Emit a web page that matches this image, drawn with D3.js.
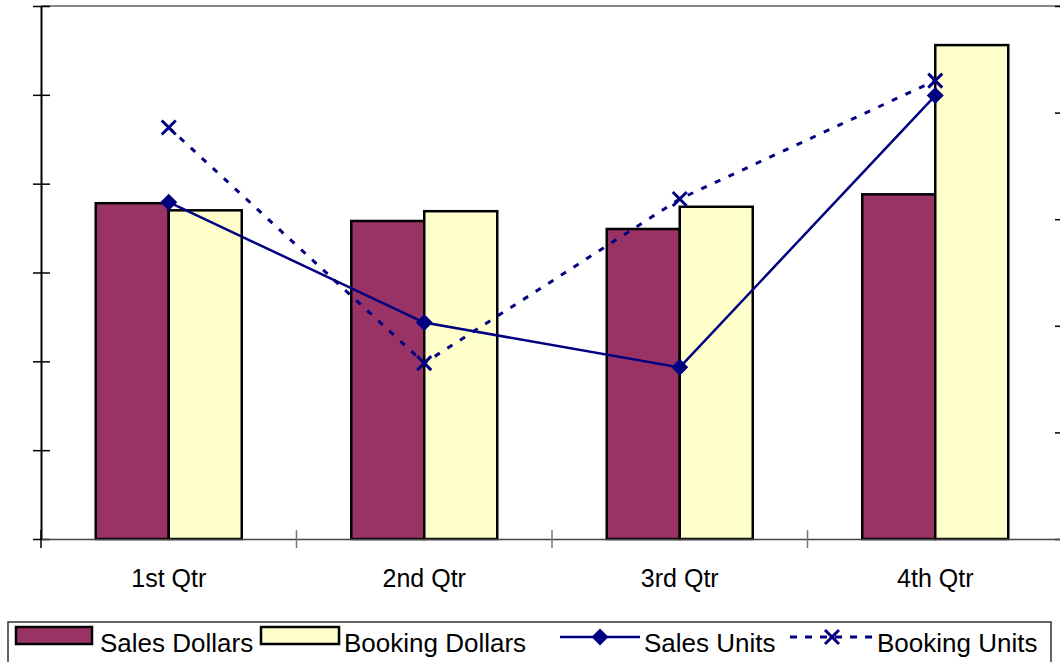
<!DOCTYPE html>
<html><head><meta charset="utf-8">
<script src="https://cdn.jsdelivr.net/npm/d3@7"></script>
<style>body{margin:0;background:#fff;}svg{display:block;font-family:"Liberation Sans",Arial,sans-serif;}</style>
</head><body><svg id="c" width="1060" height="662"></svg>
<script>
const categories = ["1st Qtr","2nd Qtr","3rd Qtr","4th Qtr"];
const salesDollars = [37.8, 35.8, 34.9, 38.8];
const bookingDollars = [37.0, 36.9, 37.4, 55.6];
const salesUnits = [316, 203, 161, 416];
const bookingUnits = [386, 165, 319, 430];
const leftTicks = [0,10,20,30,40,50,60];
const rightTicks = [0,100,200,300,400,500];

const svg = d3.select("#c");
const L = 41, R = 1063, T = 6, B = 539;
const x = d3.scaleBand().domain(categories).range([L, R]).paddingInner(0).paddingOuter(0);
const yL = d3.scaleLinear().domain([0, 60]).range([B, T]);
const yR = d3.scaleLinear().domain([0, 500]).range([B, T]);
const navy = "#000080";

// plot area border (top gray)
svg.append("line").attr("x1", L).attr("x2", R).attr("y1", T).attr("y2", T).attr("stroke", "#888").attr("stroke-width", 2);

// bars
const bw = 73;
const g = svg.append("g");
categories.forEach((c, i) => {
  const cx = x(c) + x.bandwidth() / 2;
  g.append("rect").attr("x", cx - bw).attr("y", yL(salesDollars[i])).attr("width", bw)
    .attr("height", B - yL(salesDollars[i])).attr("fill", "#993366").attr("stroke", "#000").attr("stroke-width", 2.5);
  g.append("rect").attr("x", cx).attr("y", yL(bookingDollars[i])).attr("width", bw)
    .attr("height", B - yL(bookingDollars[i])).attr("fill", "#FFFFCC").attr("stroke", "#000").attr("stroke-width", 2.5);
});

// axes
const axL = svg.append("g").attr("transform", `translate(${L},0)`)
  .call(d3.axisLeft(yL).tickValues(leftTicks).tickFormat("").tickSizeInner(8).tickSizeOuter(0));
axL.selectAll(".tick line").attr("x2", 0).attr("x1", -8).clone().attr("x1", 0).attr("x2", 9);
axL.select(".domain").attr("stroke", "#000").attr("stroke-width", 2);
axL.selectAll("line").attr("stroke", "#000").attr("stroke-width", 1.5);

const axR = svg.append("g").attr("transform", `translate(${R},0)`)
  .call(d3.axisRight(yR).tickValues(rightTicks).tickFormat("").tickSizeInner(8).tickSizeOuter(0));
axR.selectAll(".tick line").attr("x1", -8).attr("x2", 8).attr("stroke", "#000").attr("stroke-width", 1.5);

const axB = svg.append("g").attr("transform", `translate(0,${B})`)
  .call(d3.axisBottom(x).tickSize(0));
axB.select(".domain").attr("stroke", "#444").attr("stroke-width", 1.5);
axB.selectAll(".tick text").attr("font-size", 25).attr("fill", "#000").attr("dy", 0).attr("y", 48)
  .attr("font-family", "Liberation Sans, Arial, sans-serif");
const bounds = [L, ...categories.map(c => x(c) + x.bandwidth())];
svg.append("g").selectAll("line").data(bounds).join("line")
  .attr("x1", d => d).attr("x2", d => d).attr("y1", B - 9).attr("y2", B + 9)
  .attr("stroke", d => d === L ? "#000" : "#777").attr("stroke-width", 1.5);

// lines
const cxOf = (d, i) => x(categories[i]) + x.bandwidth() / 2;
const lineS = d3.line().x(cxOf).y(d => yR(d));
svg.append("path").datum(bookingUnits).attr("d", lineS).attr("fill", "none").attr("stroke", navy)
  .attr("stroke-width", 3).attr("stroke-dasharray", "6,9");
svg.append("path").datum(salesUnits).attr("d", lineS).attr("fill", "none").attr("stroke", navy).attr("stroke-width", 2.5);

const diamond = (cx, cy, r) => `M${cx},${cy - r}L${cx + r},${cy}L${cx},${cy + r}L${cx - r},${cy}Z`;
const cross = (cx, cy, r) => `M${cx - r},${cy - r}L${cx + r},${cy + r}M${cx - r},${cy + r}L${cx + r},${cy - r}`;
svg.append("g").selectAll("path").data(salesUnits).join("path")
  .attr("d", (d, i) => diamond(cxOf(d, i), yR(d), 8.5)).attr("fill", navy);
svg.append("g").selectAll("path").data(bookingUnits).join("path")
  .attr("d", (d, i) => cross(cxOf(d, i), yR(d), 7)).attr("stroke", navy).attr("stroke-width", 3).attr("fill", "none");

// legend
const lg = svg.append("g");
lg.append("rect").attr("x", 8).attr("y", 622).attr("width", 1043).attr("height", 50)
  .attr("fill", "#fff").attr("stroke", "#333").attr("stroke-width", 1.5);
const ty = 652, fs = 26;
lg.append("rect").attr("x", 16).attr("y", 627).attr("width", 76).attr("height", 17).attr("fill", "#993366").attr("stroke", "#000").attr("stroke-width", 2.5);
lg.append("text").attr("x", 100).attr("y", ty).attr("font-size", fs).text("Sales Dollars");
lg.append("rect").attr("x", 261).attr("y", 627).attr("width", 78).attr("height", 17).attr("fill", "#FFFFCC").attr("stroke", "#000").attr("stroke-width", 2.5);
lg.append("text").attr("x", 344).attr("y", ty).attr("font-size", fs).text("Booking Dollars");
lg.append("line").attr("x1", 560).attr("x2", 640).attr("y1", 637).attr("y2", 637).attr("stroke", navy).attr("stroke-width", 2.5);
lg.append("path").attr("d", diamond(600, 637, 8.5)).attr("fill", navy);
lg.append("text").attr("x", 644).attr("y", ty).attr("font-size", fs).text("Sales Units");
lg.append("line").attr("x1", 790).attr("x2", 874).attr("y1", 637).attr("y2", 637).attr("stroke", navy).attr("stroke-width", 3).attr("stroke-dasharray", "7,8");
lg.append("path").attr("d", cross(832, 637, 7)).attr("stroke", navy).attr("stroke-width", 3).attr("fill", "none");
lg.append("text").attr("x", 877).attr("y", ty).attr("font-size", fs).text("Booking Units");
</script></body></html>
